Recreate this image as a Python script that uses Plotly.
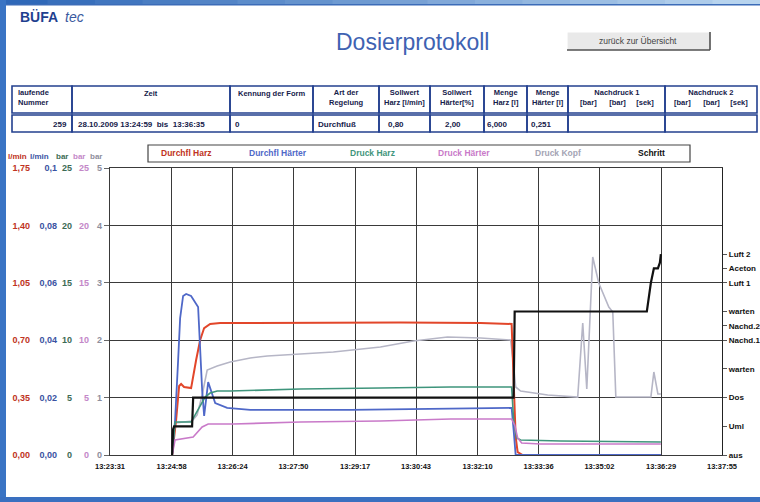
import plotly.graph_objects as go

W, H = 760, 502

# ---------------- data ----------------
time_ticks = ["13:23:31", "13:24:58", "13:26:24", "13:27:50", "13:29:17", "13:30:43",
              "13:32:10", "13:33:36", "13:35:02", "13:36:29", "13:37:55"]

# times in seconds after 13:23:31
t_harz = [87.7, 93.3, 97.6, 100.4, 104.6, 114.5, 121.6, 127.3, 132.9, 141.4, 155.5,
          268.7, 410.1, 523.2, 567.0, 569.8, 572.7, 575.5, 582.6, 777.7]
durchfl_harz = [0, 0.213, 0.421, 0.433, 0.415, 0.408, 0.579, 0.701, 0.774, 0.799, 0.805,
                0.808, 0.808, 0.805, 0.799, 0.457, 0.110, 0.018, 0, 0]  # l/min

t_haerter = [87.7, 91.9, 96.2, 99.0, 103.2, 107.5, 114.5, 120.2, 124.4, 130.1, 132.9,
             138.6, 148.5, 165.4, 198.0, 339.4, 438.3, 567.0, 569.8, 572.7, 777.7]
durchfl_haerter = [0, 0.0122, 0.0331, 0.0477, 0.0554, 0.0561, 0.0554, 0.0533, 0.0516, 0.0226,
                   0.0136, 0.0254, 0.0181, 0.0164, 0.0157, 0.0157, 0.0160, 0.0164, 0.0087, 0, 0]  # l/min

t_druck_harz = [87.7, 91.9, 114.5, 120.2, 127.3, 134.3, 141.4, 151.3, 169.7, 268.7, 381.8,
                480.8, 567.0, 569.8, 574.1, 579.7, 636.3, 777.7]
druck_harz = [0, 2.87, 2.87, 3.48, 4.36, 5.05, 5.40, 5.57, 5.57, 5.75, 5.84,
              5.92, 5.92, 3.05, 1.48, 1.31, 1.22, 1.13]  # bar

t_druck_haerter = [87.7, 91.9, 117.4, 124.4, 130.1, 138.6, 173.9, 268.7, 381.8, 480.8,
                   567.0, 571.3, 575.5, 581.2, 608.0, 777.7]
druck_haerter = [0, 1.31, 1.57, 2.00, 2.44, 2.70, 2.70, 2.87, 2.96, 3.14,
                 3.14, 2.61, 1.48, 1.05, 0.96, 0.96]  # bar

t_druck_kopf = [87.7, 91.9, 115.9, 123.0, 130.1, 137.2, 151.3, 169.7, 198.0, 222.0, 315.3,
                381.8, 428.4, 476.5, 523.2, 565.6, 569.8, 572.7, 579.7, 617.9, 660.3, 667.4,
                673.1, 681.5, 690.0, 704.2, 709.8, 714.1, 763.6, 767.8, 773.5, 777.7]
druck_kopf = [0, 0.557, 0.592, 0.697, 1.045, 1.481, 1.551, 1.620, 1.690, 1.725, 1.794,
              1.882, 1.986, 2.056, 2.038, 2.003, 1.568, 1.185, 1.115, 1.045, 1.010, 2.300,
              1.150, 3.449, 2.997, 2.578, 2.491, 1.010, 1.010, 1.446, 1.063, 1.063]  # bar

t_schritt = [87.7, 89.1, 90.5, 115.9, 117.4, 569.8, 571.3, 757.9, 763.6, 767.8, 773.5, 776.3, 777.7]
schritt = [0, 0.45, 0.5, 0.5, 1, 1, 2.5, 2.5, 3.0, 3.25, 3.25, 3.35, 3.5]

schritt_pos = [0, 0.5, 1, 1.5, 2, 2.25, 2.5, 3, 3.25, 3.5]
schritt_names = ["aus", "Uml", "Dos", "warten", "Nachd.1", "Nachd.2", "warten", "Luft 1", "Aceton", "Luft 2"]

harz_ticks = ["0,00", "0,35", "0,70", "1,05", "1,40", "1,75"]
haerter_ticks = ["0,00", "0,02", "0,04", "0,06", "0,08", "0,1"]
bar25_ticks = ["0", "5", "10", "15", "20", "25"]
bar5_ticks = ["0", "1", "2", "3", "4", "5"]

legend_names = ["Durchfl Harz", "Durchfl Härter", "Druck Harz", "Druck Härter", "Druck Kopf", "Schritt"]

table_header = ["laufende<br>Nummer", "Zeit", "Kennung der Form", "Art der<br>Regelung",
                "Sollwert<br>Harz [l/min]", "Sollwert<br>Härter[%]", "Menge<br>Harz [l]",
                "Menge<br>Härter [l]", "Nachdruck 1<br>[bar]      [bar]     [sek]",
                "Nachdruck 2<br>[bar]      [bar]     [sek]"]
table_values = ["259", "28.10.2009 13:24:59  bis  13:36:35", "0", "Durchfluß",
                "0,80", "2,00", "6,000", "0,251", "", ""]

# ---------------- styling ----------------
C_RED, C_BLUE, C_GREEN, C_PINK, C_GRAY, C_BLACK = "#e2462a", "#4f68c8", "#3f957c", "#c97ac9", "#b6b6c6", "#111111"
T_RED, T_BLUE, T_GREEN, T_PINK, T_GRAY = "#c03322", "#3a52a2", "#3d6b55", "#c487c8", "#8e8e9c"
GRID = "#3a3a3a"
FONT = "Liberation Sans, Arial, sans-serif"
NAVY = "#23408f"


def sec(s):
    h, m, x = (int(v) for v in s.split(":"))
    return h * 3600 + m * 60 + x


t0 = sec(time_ticks[0])
tickvals = [sec(s) - t0 for s in time_ticks]

X = lambda px: px / W
Y = lambda py: 1 - py / H

fig = go.Figure()
series = [
    (t_druck_kopf, druck_kopf, "y", C_GRAY, 1.6, legend_names[4]),
    (t_harz, durchfl_harz, "y2", C_RED, 2.0, legend_names[0]),
    (t_haerter, durchfl_haerter, "y3", C_BLUE, 1.8, legend_names[1]),
    (t_druck_harz, druck_harz, "y4", C_GREEN, 1.6, legend_names[2]),
    (t_druck_haerter, druck_haerter, "y5", C_PINK, 1.6, legend_names[3]),
    (t_schritt, schritt, "y6", C_BLACK, 2.2, legend_names[5]),
]
for tx, vy, ax, col, lw, nm in series:
    fig.add_trace(go.Scatter(x=tx, y=vy, yaxis=ax, mode="lines", name=nm,
                             line=dict(color=col, width=lw), hoverinfo="skip"))

tf = lambda c, s=9: dict(family=FONT, size=s, color=c, weight="bold")
dom_y = [Y(455), Y(168)]


def free_axis(pos, rng, vals, text, col):
    return dict(overlaying="y", anchor="free", position=pos, side="left", range=rng,
                tickmode="array", tickvals=vals, ticktext=text, showgrid=False,
                zeroline=False, showline=False, ticks="", tickfont=tf(col))


fig.update_layout(
    width=W, height=H, margin=dict(l=0, r=0, t=0, b=0, autoexpand=False),
    paper_bgcolor="white", plot_bgcolor="white", showlegend=False, hovermode=False,
    xaxis=dict(domain=[X(110), X(722)], range=[0, 864], tickmode="array", tickvals=tickvals,
               ticktext=time_ticks, showgrid=True, gridcolor=GRID, gridwidth=1.2,
               showline=True, mirror=True, linecolor=GRID, linewidth=1.2, zeroline=False,
               ticks="", ticklabelstandoff=4, tickfont=tf(C_BLACK, 7.5)),
    yaxis=dict(domain=dom_y, range=[0, 5], tickmode="array", tickvals=[0, 1, 2, 3, 4, 5],
               ticktext=bar5_ticks, showgrid=True, gridcolor=GRID, gridwidth=1.2,
               showline=True, mirror=True, linecolor=GRID, linewidth=1.2, zeroline=False,
               ticks="outside", ticklen=5, tickcolor="#666", tickfont=tf(T_GRAY)),
    yaxis2=free_axis(X(30), [0, 1.75], [0, 0.35, 0.7, 1.05, 1.4, 1.75], harz_ticks, T_RED),
    yaxis3=free_axis(X(57), [0, 0.1], [0, 0.02, 0.04, 0.06, 0.08, 0.1], haerter_ticks, T_BLUE),
    yaxis4=free_axis(X(72), [0, 25], [0, 5, 10, 15, 20, 25], bar25_ticks, T_GREEN),
    yaxis5=free_axis(X(89), [0, 25], [0, 5, 10, 15, 20, 25], bar25_ticks, T_PINK),
    yaxis6=dict(overlaying="y", anchor="x", side="right", range=[0, 5], tickmode="array",
                tickvals=schritt_pos, ticktext=schritt_names, showgrid=False, zeroline=False,
                showline=True, linecolor="#222", linewidth=1.4, ticks="outside", ticklen=4,
                tickcolor="#555", tickfont=tf(C_BLACK, 8)),
)

shapes = []
ann = []


def rect(x0, y0, x1, y1, fill=None, line=None, lw=1, layer="above"):
    shapes.append(dict(type="rect", xref="paper", yref="paper", x0=X(x0), x1=X(x1), y0=Y(y1), y1=Y(y0),
                       fillcolor=fill if fill else "rgba(0,0,0,0)",
                       line=dict(color=line if line else "rgba(0,0,0,0)", width=lw if line else 0),
                       layer=layer))


def seg(x0, y0, x1, y1, col, lw=1):
    shapes.append(dict(type="line", xref="paper", yref="paper", x0=X(x0), x1=X(x1), y0=Y(y0), y1=Y(y1),
                       line=dict(color=col, width=lw)))


def txt(x, y, s, size=8, color="#111", xa="center", bold=True, italic=False, family=FONT):
    ann.append(dict(x=X(x), y=Y(y), xref="paper", yref="paper", text=s, showarrow=False,
                    xanchor=xa, yanchor="middle", align="center" if xa == "center" else xa,
                    font=dict(family=family, size=size, color=color,
                              weight="bold" if bold else "normal",
                              style="italic" if italic else "normal")))


# window frame
n = 16
c0, c1 = (47, 104, 184), (184, 212, 238)
for i in range(n):
    f = i / (n - 1)
    c = tuple(int(c0[k] + (c1[k] - c0[k]) * f) for k in range(3))
    rect(i * W / n, 0, (i + 1) * W / n + 1, 4, fill="rgb(%d,%d,%d)" % c, layer="below")
rect(0, 4, W, 5.5, fill="#3c6cb8", layer="below")
rect(0, 0, 6, H, fill="#3a74c4", layer="below")
rect(0, 497, W, H, fill="#3a70c0", layer="below")

# logo and title
txt(18, 17, "<b>BÜFA</b>", 14, "#1f3f8f", xa="left")
txt(63, 17, "<i>tec</i>", 14, "#3a5aa0", xa="left", bold=False)
txt(412, 42, "Dosierprotokoll", 23, "#3e62b2", bold=False)

# button
rect(567, 32, 710, 50, fill="#e9e9e9")
seg(567, 32, 710, 32, "#ffffff", 1.2)
seg(567, 32, 567, 50, "#ffffff", 1.2)
seg(567, 50, 710, 50, "#505050", 1.6)
seg(710, 32, 710, 50, "#505050", 1.6)
txt(638, 41, "zurück zur Übersicht", 8.5, "#444", bold=False)

# table
cols = [12, 72, 230, 313, 379, 430, 484, 527, 568, 665, 757]
for i in range(len(cols) - 1):
    rect(cols[i], 86, cols[i + 1], 113, line=NAVY, lw=1.6)
    rect(cols[i], 115, cols[i + 1], 132, line=NAVY, lw=1.6)
    cx = (cols[i] + cols[i + 1]) / 2
    if i == 0:
        txt(cols[i] + 4, 97, table_header[i], 7.5, "#15204a", xa="left")
    elif "<br>" in table_header[i]:
        txt(cx, 97, table_header[i], 7.5, "#15204a")
    else:
        txt(cx, 93, table_header[i], 7.5, "#15204a")
val_pos = [(69, "right"), (76, "left"), (233, "left"), (316, "left"), (396, "center"),
           (453, "center"), (497, "center"), (541, "center"), (600, "center"), (700, "center")]
for (vx, va), s in zip(val_pos, table_values):
    if s:
        txt(vx, 124, s.replace("  ", "\u00a0\u00a0"), 8, "#15204a", xa=va)

# legend box
rect(148, 145, 690, 162, fill="white", line="#444", lw=1.2)
leg_x = [186, 278, 372, 464, 558, 651]
leg_c = [T_RED, C_BLUE, C_GREEN, C_PINK, "#a4a4b4", C_BLACK]
for lx, lc, nm in zip(leg_x, leg_c, legend_names):
    txt(lx, 153.5, nm, 8.5, lc)

# unit labels above the left axes
units = [(29, "l/min", T_RED), (51, "l/min", T_BLUE), (70, "bar", T_GREEN), (87, "bar", T_PINK), (104, "bar", T_GRAY)]
for ux, us, uc in units:
    txt(ux, 157, us, 8, uc, xa="right")

fig.update_layout(shapes=shapes, annotations=ann)
fig.write_html("out.html", config={"displayModeBar": False},
               post_script="document.body.style.margin='0px';document.body.style.overflow='hidden';")
